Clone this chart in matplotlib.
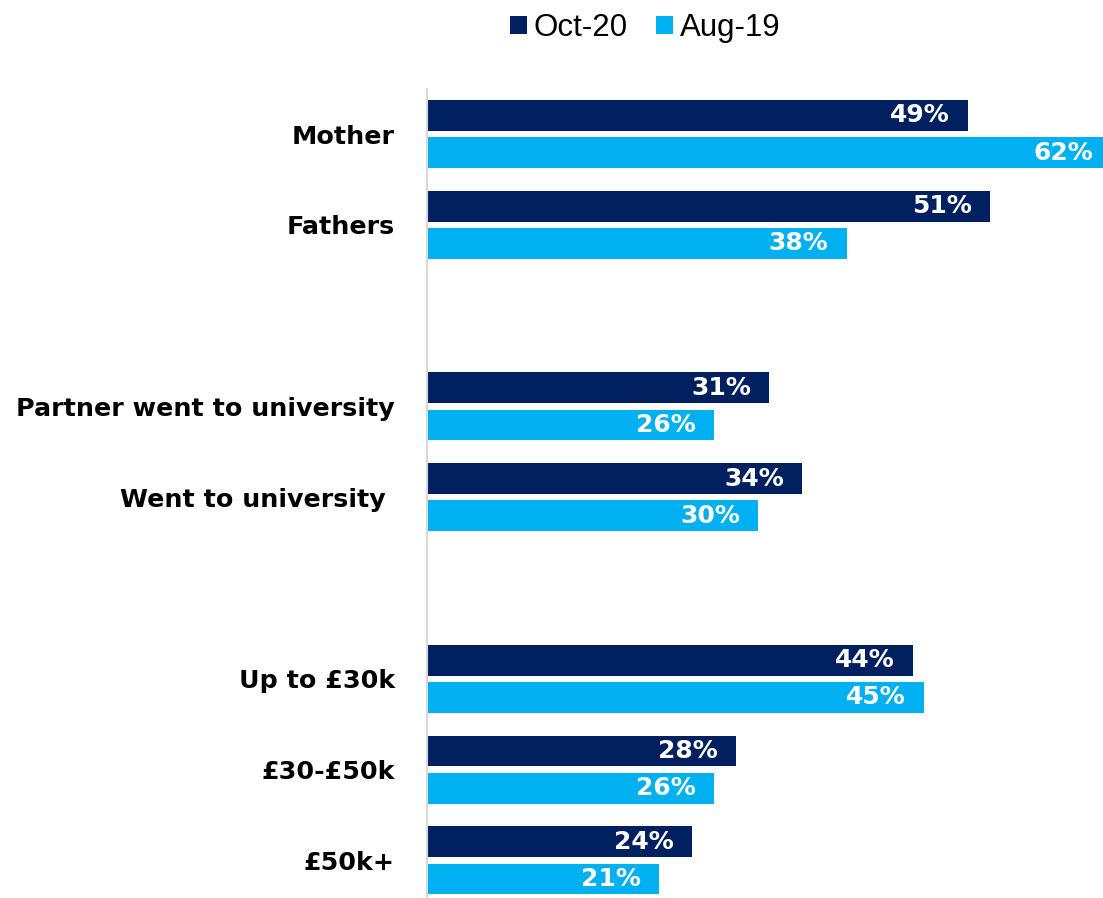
import matplotlib
matplotlib.use("Agg")
import matplotlib.pyplot as plt
from matplotlib.patches import Patch
import numpy as np

categories = ["Mother", "Fathers", "", "Partner went to university", "Went to university ",
              "", "Up to £30k", "£30-£50k", "£50k+"]
oct20 = [49, 51, None, 31, 34, None, 44, 28, 24]
aug19 = [62, 38, None, 26, 30, None, 45, 26, 21]
series_names = ["Oct-20", "Aug-19"]
colors = ["#002060", "#00B0F0"]

W, H = 1103, 898
fig = plt.figure(figsize=(W / 100, H / 100), dpi=100)
left = 427 / W
top = 1 - 88.6 / H
slot = 90.8
bottom = 1 - (88.6 + 9 * slot) / H
ax = fig.add_axes([left, bottom, 1 - left, top - bottom])

px_per_unit = 11.04
ax.set_xlim(0, (W - 427) / px_per_unit)
ax.set_ylim(8.5, -0.5)

off = 0.205
h = 0.34
for i, (a, b) in enumerate(zip(oct20, aug19)):
    for val, dy, col in ((a, -off, colors[0]), (b, off, colors[1])):
        if val is None:
            continue
        ax.barh(i + dy, val, height=h, color=col, edgecolor="none")
        ax.annotate(f"{val}%", xy=(val, i + dy), xytext=(-13, 0), textcoords="offset points",
                    ha="right", va="center", color="white", fontsize=18,
                    fontweight="bold", family="DejaVu Sans", annotation_clip=False)

idx = [i for i, c in enumerate(categories) if c]
ax.set_yticks(idx)
ax.set_yticklabels([categories[i] for i in idx], fontsize=18.3, fontweight="bold",
                   family="DejaVu Sans")
ax.tick_params(axis="y", length=0, pad=23)
ax.set_xticks([])
for s in ("top", "right", "bottom"):
    ax.spines[s].set_visible(False)
ax.spines["left"].set_color("#d9d9d9")
ax.spines["left"].set_linewidth(1.5)

handles = [Patch(facecolor=c, edgecolor="none") for c in colors]
fig.legend(handles, series_names, loc="center", bbox_to_anchor=(645 / W, 1 - 28 / H),
           ncol=2, frameon=False, prop={"family": "Liberation Sans", "size": 22.5},
           handlelength=0.55, handleheight=0.55, handletextpad=0.22, columnspacing=0.9,
           borderaxespad=0, borderpad=0)

fig.savefig("out.png", dpi=100)
